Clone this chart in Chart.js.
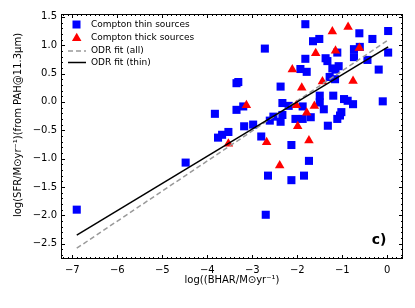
<!DOCTYPE html>
<html>
<head>
<meta charset="utf-8">
<script src="https://cdn.jsdelivr.net/npm/chart.js@4.4.0/dist/chart.umd.min.js"></script>
<style>
    html, body { margin: 0; padding: 0; background: #fff; }
</style>
</head>
<body>
<canvas id="sfr-chart" width="415" height="308"></canvas>
<script>
// Compton thin sources (blue squares)
const thinX = [-6.90, -4.48, -2.72, -3.35, -3.31, -2.37, -3.83, -3.35, -3.20, -2.33,
    -2.19, -2.53, -2.33, -2.61, -2.37, -2.98, -3.18, -3.53, -3.67, -3.76,
    -2.80, -2.13, -1.82, -0.62, 0.02, -0.33, -1.65, -1.51, -0.61, -0.74,
    -1.11, -1.82, -1.37, -1.33, -0.74, -0.44, 0.02, -0.19, -1.22, -1.08,
    -1.15, -1.93, -1.79, -1.28, -1.16, -1.20, -1.50, -0.96, -0.88, -0.76,
    -0.10, -1.50, -1.88, -1.41, -1.02, -1.05, -1.11, -2.04, -1.88, -1.70,
    -1.32, -2.65, -2.13, -2.70, -1.74, -1.85];
const thinY = [-1.90, -1.07, 0.94, 0.33, 0.35, 0.27, -0.21, -0.14, -0.08, -0.02,
    -0.07, -0.26, -0.23, -0.33, -0.35, -0.40, -0.43, -0.53, -0.58, -0.63,
    -0.61, -0.76, 1.37, 1.21, 1.25, 1.11, 1.07, 1.11, 0.97, 0.93,
    0.87, 0.76, 0.77, 0.72, 0.79, 0.74, 0.87, 0.57, 0.59, 0.63,
    0.57, 0.58, 0.53, 0.44, 0.40, 0.11, 0.11, 0.05, 0.02, -0.04,
    0.01, -0.01, -0.08, -0.13, -0.18, -0.24, -0.30, -0.30, -0.30, -0.27,
    -0.42, -1.30, -1.38, -1.99, -1.04, -1.30];

// Compton thick sources (red triangles)
const thickX = [-3.13, -2.68, -3.53, -2.11, -1.90, -2.02, -1.99, -1.22, -0.87, -0.62,
    -1.15, -1.59, -1.44, -0.76, -1.62, -1.79, -1.74, -2.39];
const thickY = [-0.06, -0.71, -0.74, 0.57, 0.25, -0.06, -0.43, 1.24, 1.32, 0.95,
    0.90, 0.86, 0.36, 0.37, -0.07, -0.19, -0.68, -1.12];

// ODR fit end points
const fitX = [-6.90, 0.02];
const fitAllY = [-2.58, 1.09];
const fitThinY = [-2.35, 0.97];

const xTicks = [-7, -6, -5, -4, -3, -2, -1, 0];
const yTicks = [-2.5, -2.0, -1.5, -1.0, -0.5, 0.0, 0.5, 1.0, 1.5];

const X_TITLE = "log((BHAR/M\u2299yr\u207B\u00B9)";
const Y_TITLE = "log(SFR/M\u2299yr\u207B\u00B9)(from PAH@11.3\u03BCm)";

const FONT = "'DejaVu Sans', sans-serif";
Chart.defaults.font.family = FONT;
Chart.defaults.color = "#000";

const pts = (xs, ys) => xs.map((x, i) => ({ x, y: ys[i] }));
const minus = (s) => String(s).replace("-", "\u2212");

function drawTriangle(ctx, x, y, r) {
    ctx.beginPath();
    ctx.moveTo(x, y - r);
    ctx.lineTo(x + r * 0.866, y + r * 0.5);
    ctx.lineTo(x - r * 0.866, y + r * 0.5);
    ctx.closePath();
    ctx.fill();
}

const decorations = {
    id: "decorations",
    afterDraw(chart) {
        const { ctx, chartArea: a, scales } = chart;
        const sx = scales.x, sy = scales.y;
        ctx.save();
        // frame
        ctx.strokeStyle = "#000";
        ctx.lineWidth = 1;
        ctx.strokeRect(a.left + 0.5, a.top + 0.5, a.right - a.left - 1, a.bottom - a.top - 1);
        // inward ticks, minor every 0.1
        ctx.beginPath();
        for (let i = -73; i <= 4; i++) {
            const px = Math.round(sx.getPixelForValue(i / 10)) + 0.5;
            if (px <= a.left || px >= a.right) continue;
            const len = i % 10 === 0 ? 4 : 2;
            ctx.moveTo(px, a.bottom); ctx.lineTo(px, a.bottom - len);
            ctx.moveTo(px, a.top); ctx.lineTo(px, a.top + len);
        }
        for (let i = -28; i <= 16; i++) {
            const py = Math.round(sy.getPixelForValue(i / 10)) + 0.5;
            if (py <= a.top || py >= a.bottom) continue;
            const len = i % 5 === 0 ? 4 : 2;
            ctx.moveTo(a.left, py); ctx.lineTo(a.left + len, py);
            ctx.moveTo(a.right, py); ctx.lineTo(a.right - len, py);
        }
        ctx.stroke();

        // legend
        ctx.font = "9px " + FONT;
        ctx.textBaseline = "middle";
        ctx.textAlign = "left";
        ctx.fillStyle = "#0000ff";
        ctx.fillRect(72.5, 20.5, 8, 8);
        ctx.fillStyle = "#ff0000";
        drawTriangle(ctx, 76.7, 38.3, 5.5);
        ctx.lineWidth = 1.5;
        ctx.strokeStyle = "#999";
        ctx.setLineDash([5, 3]);
        ctx.beginPath(); ctx.moveTo(68, 51); ctx.lineTo(86, 51); ctx.stroke();
        ctx.setLineDash([]);
        ctx.strokeStyle = "#000";
        ctx.beginPath(); ctx.moveTo(68, 62.5); ctx.lineTo(86, 62.5); ctx.stroke();
        ctx.fillStyle = "#000";
        ctx.fillText("Compton thin sources", 91, 24.5);
        ctx.fillText("Compton thick sources", 91, 37.5);
        ctx.fillText("ODR fit (all)", 91, 50.5);
        ctx.fillText("ODR fit (thin)", 91, 62.5);

        // panel label
        ctx.font = "bold 14px " + FONT;
        ctx.textAlign = "center";
        ctx.fillText("c)", 379, 240);

        // axis titles
        ctx.font = "10px " + FONT;
        ctx.fillText(X_TITLE, (a.left + a.right) / 2, 280);
        ctx.translate(18, 125);
        ctx.rotate(-Math.PI / 2);
        ctx.fillText(Y_TITLE, 0, 0);
        ctx.restore();
    },
};

new Chart(document.getElementById("sfr-chart"), {
    type: "scatter",
    data: {
        datasets: [
            {
                label: "ODR fit (thin)",
                data: pts(fitX, fitThinY),
                showLine: true,
                borderColor: "#000",
                borderWidth: 1.5,
                pointRadius: 0,
                order: 0,
            },
            {
                label: "ODR fit (all)",
                data: pts(fitX, fitAllY),
                showLine: true,
                borderColor: "#999",
                borderWidth: 1.5,
                borderDash: [5, 3],
                pointRadius: 0,
                order: 1,
            },
            {
                label: "Compton thick sources",
                data: pts(thickX, thickY),
                pointStyle: "triangle",
                pointRadius: 5.5,
                backgroundColor: "#ff0000",
                borderWidth: 0,
                order: 2,
            },
            {
                label: "Compton thin sources",
                data: pts(thinX, thinY),
                pointStyle: "rect",
                pointRadius: 5.7,
                backgroundColor: "#0000ff",
                borderWidth: 0,
                order: 3,
            },
        ],
    },
    options: {
        responsive: false,
        animation: false,
        layout: { padding: { top: 14, right: 12, left: 0, bottom: 0 } },
        plugins: {
            legend: { display: false },
            tooltip: { enabled: false },
        },
        scales: {
            x: {
                min: -7.25,
                max: 0.35,
                afterBuildTicks: (s) => { s.ticks = xTicks.map((v) => ({ value: v })); },
                afterFit: (s) => { s.height = 49; },
                grid: { display: false, drawTicks: false },
                border: { display: false },
                ticks: {
                    font: { size: 10 },
                    padding: 5,
                    maxRotation: 0,
                    autoSkip: false,
                    callback: (v) => minus(v),
                },
            },
            y: {
                min: -2.77,
                max: 1.55,
                afterBuildTicks: (s) => { s.ticks = yTicks.map((v) => ({ value: v })); },
                afterFit: (s) => { s.width = 61; },
                grid: { display: false, drawTicks: false },
                border: { display: false },
                ticks: {
                    font: { size: 10 },
                    padding: 4,
                    autoSkip: false,
                    callback: (v) => minus(v.toFixed(1)),
                },
            },
        },
    },
    plugins: [decorations],
});
</script>
</body>
</html>
